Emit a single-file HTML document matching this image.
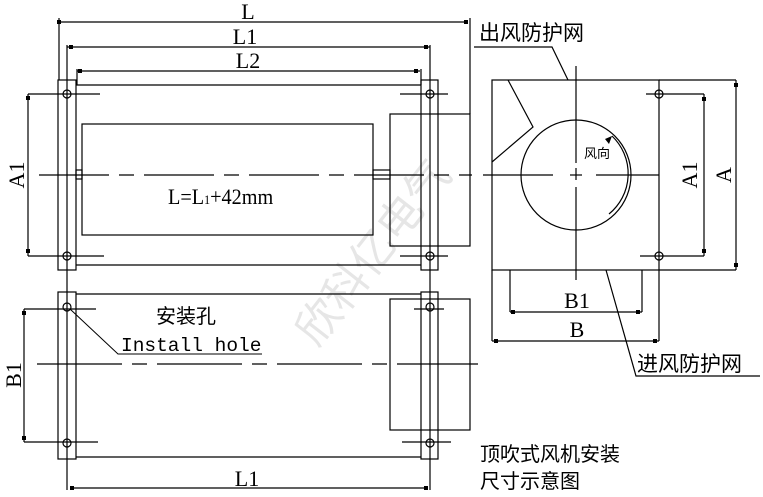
<!DOCTYPE html>
<html><head><meta charset="utf-8"><style>
html,body{margin:0;padding:0;background:#fff}
svg{display:block}
text{font-family:"Liberation Serif","Noto Serif CJK SC","Noto Sans CJK SC",serif;fill:#000}
.cj{font-family:"Noto Sans CJK SC","WenQuanYi Zen Hei",sans-serif}
</style></head><body>
<svg width="763" height="497" viewBox="0 0 763 497" xmlns="http://www.w3.org/2000/svg">
<g transform="translate(385,262) rotate(-52)"><text class="cj" x="0" y="0" text-anchor="middle" font-size="44" style="fill:#e6e6e6">欣科亿电气</text></g>
<g stroke="#000" stroke-width="1.2" fill="none">
<line x1="59" y1="22" x2="466" y2="22"/>
<line x1="59" y1="18" x2="59" y2="80"/>
<line x1="470" y1="18" x2="470" y2="114"/>
<line x1="67" y1="47" x2="430" y2="47"/>
<line x1="67" y1="45" x2="67" y2="80"/>
<line x1="430" y1="45" x2="430" y2="80"/>
<line x1="77" y1="71" x2="420" y2="71"/>
<line x1="77" y1="69" x2="77" y2="85"/>
<line x1="421" y1="69" x2="421" y2="85"/>
<rect x="58" y="80" width="18" height="190"/>
<rect x="421" y="80" width="17" height="190"/>
<line x1="67" y1="80" x2="67" y2="292"/>
<line x1="430" y1="80" x2="430" y2="292"/>
<line x1="76" y1="85" x2="421" y2="85"/>
<line x1="76" y1="265" x2="421" y2="265"/>
<rect x="82" y="124" width="291" height="111"/>
<rect x="76" y="170" width="6" height="9"/>
<rect x="373" y="170" width="17" height="9"/>
<rect x="390" y="114" width="80" height="132"/>
<circle cx="67" cy="94" r="4"/><circle cx="67" cy="256" r="4"/>
<circle cx="430" cy="94" r="4"/><circle cx="430" cy="256" r="4"/>
<line x1="28" y1="94" x2="100" y2="94"/>
<line x1="28" y1="256" x2="104" y2="256"/>
<line x1="400" y1="94" x2="448" y2="94"/>
<line x1="400" y1="256" x2="448" y2="256"/>
<line x1="28" y1="94" x2="28" y2="256"/>
<line x1="39" y1="175" x2="472" y2="175" stroke-dasharray="70 10 15 10"/>
<rect x="492" y="80" width="167" height="190"/>
<line x1="659" y1="80" x2="736" y2="80"/>
<line x1="659" y1="270" x2="736" y2="270"/>
<line x1="736" y1="80" x2="736" y2="270"/>
<line x1="646" y1="94" x2="704" y2="94"/>
<line x1="640" y1="256" x2="704" y2="256"/>
<line x1="704" y1="94" x2="704" y2="256"/>
<circle cx="659" cy="94" r="4"/><circle cx="659" cy="256" r="4"/>
<line x1="659" y1="270" x2="659" y2="341"/>
<line x1="492" y1="270" x2="492" y2="341"/>
<line x1="492" y1="341" x2="659" y2="341"/>
<line x1="510" y1="270" x2="510" y2="312"/>
<line x1="642" y1="270" x2="642" y2="312"/>
<line x1="510" y1="312" x2="642" y2="312"/>
<polyline points="508,80 533,127 492,162"/>
<circle cx="576" cy="175" r="55"/>
<path d="M612,136 A52,52 0 0 1 609,214"/>
<line x1="483" y1="175" x2="553" y2="175"/>
<line x1="570" y1="175" x2="582" y2="175"/>
<line x1="596" y1="175" x2="659" y2="175"/>
<line x1="576" y1="66" x2="576" y2="163"/>
<line x1="576" y1="168" x2="576" y2="180"/>
<line x1="576" y1="187" x2="576" y2="280"/>
<polyline points="474,47 552,47 568,80"/>
<polyline points="606,270 636,376 760,376"/>
<rect x="58" y="292" width="18" height="167"/>
<rect x="421" y="292" width="17" height="167"/>
<line x1="67" y1="292" x2="67" y2="490"/>
<line x1="430" y1="292" x2="430" y2="490"/>
<line x1="76" y1="294" x2="421" y2="294"/>
<line x1="76" y1="457" x2="421" y2="457"/>
<rect x="390" y="299" width="80" height="131"/>
<circle cx="67" cy="307" r="4"/><circle cx="67" cy="443" r="4"/>
<circle cx="430" cy="307" r="4"/><circle cx="430" cy="443" r="4"/>
<line x1="24" y1="309" x2="96" y2="309"/>
<line x1="24" y1="442" x2="98" y2="442"/>
<line x1="414" y1="309" x2="444" y2="309"/>
<line x1="402" y1="442" x2="451" y2="442"/>
<line x1="24" y1="309" x2="24" y2="442"/>
<line x1="37" y1="364" x2="478" y2="364" stroke-dasharray="85 10 15 10"/>
<line x1="71" y1="488" x2="426" y2="488"/>
<polyline points="70,309 118,354 262,354" stroke-width="1"/>
</g>
<g fill="#000">
<rect x="57" y="20" width="4" height="4"/><rect x="464" y="20" width="4" height="4"/>
<rect x="69" y="45" width="4" height="4"/><rect x="424" y="45" width="4" height="4"/>
<rect x="78" y="69" width="4" height="4"/><rect x="414" y="69" width="4" height="4"/>
<rect x="26" y="96" width="4" height="4"/><rect x="26" y="249" width="4" height="4"/>
<rect x="734" y="83" width="4" height="4"/><rect x="734" y="263" width="4" height="4"/>
<rect x="702" y="97" width="4" height="4"/><rect x="702" y="249" width="4" height="4"/>
<rect x="511" y="310" width="4" height="4"/><rect x="636" y="310" width="4" height="4"/>
<rect x="494" y="339" width="4" height="4"/><rect x="653" y="339" width="4" height="4"/>
<rect x="22" y="311" width="4" height="4"/><rect x="22" y="436" width="4" height="4"/>
<rect x="70" y="486" width="4" height="4"/><rect x="424" y="486" width="4" height="4"/>
<polygon points="612,136 605,139 609,144"/>
</g>
<text x="248" y="19" font-size="22" text-anchor="middle">L</text>
<text x="245" y="44" font-size="22" text-anchor="middle">L1</text>
<text x="248" y="68" font-size="22" text-anchor="middle">L2</text>
<text x="168" y="204" font-size="22" transform="translate(168,204) scale(0.92,1) translate(-168,-204)">L=L<tspan font-size="13">1</tspan>+42mm</text>
<g transform="translate(24,175) rotate(-90)"><text x="0" y="0" font-size="22" text-anchor="middle">A1</text></g>
<g transform="translate(697,175) rotate(-90)"><text x="0" y="0" font-size="22" text-anchor="middle">A1</text></g>
<g transform="translate(731,175) rotate(-90)"><text x="0" y="0" font-size="22" text-anchor="middle">A</text></g>
<g transform="translate(21,375) rotate(-90)"><text x="0" y="0" font-size="22" text-anchor="middle">B1</text></g>
<text x="577" y="308" font-size="22" text-anchor="middle">B1</text>
<text x="577" y="337" font-size="22" text-anchor="middle">B</text>
<text x="247" y="486" font-size="22" text-anchor="middle">L1</text>
<text class="cj" x="479" y="40" font-size="21">出风防护网</text>
<text class="cj" x="637" y="371" font-size="21">进风防护网</text>
<text class="cj" x="584" y="158" font-size="13">风向</text>
<text class="cj" x="156" y="323" font-size="20">安装孔</text>
<text x="121" y="351" font-size="19.5" style="font-family:'Liberation Mono',monospace">Install hole</text>
<text class="cj" x="480" y="461" font-size="20">顶吹式风机安装</text>
<text class="cj" x="480" y="488" font-size="20">尺寸示意图</text>
</svg>
</body></html>
